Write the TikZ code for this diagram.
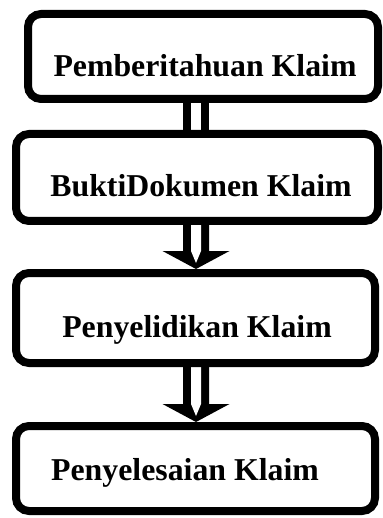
\documentclass[tikz,border=0pt]{standalone}
\usepackage{fontspec}
\setmainfont{Liberation Serif}
\usetikzlibrary{calc,backgrounds}
\begin{document}
\begin{tikzpicture}[x=1pt,y=-1pt,
  box/.style={draw=black, fill=white, line width=8pt, rounded corners=13pt, inner sep=0pt},
  lbl/.style={anchor=base, inner sep=0pt, font=\bfseries\fontsize{31.8}{38}\selectfont},
  blk/.style={fill=black},
  wht/.style={fill=white}]
\useasboundingbox (0,0) rectangle (382,518);
\coordinate (ax) at (196,0);
\node[box, minimum width=350pt, minimum height=85pt] (b1) at (203,56.5) {};
\node[box, minimum width=362pt, minimum height=87pt] (b2) at (197,177.5) {};
\node[box, minimum width=359pt, minimum height=90pt] (b3) at (195.5,318) {};
\node[box, minimum width=359pt, minimum height=85pt] (b4) at (195.5,468.5) {};
\node[lbl] (t1) at (205,77) {Pemberitahuan Klaim};
\node[lbl] (t2) at (201,197) {BuktiDokumen Klaim};
\node[lbl] (t3) at (197,337.7) {Penyelidikan Klaim};
\node[lbl] (t4) at (185,480) {Penyelesaian Klaim};
\begin{scope}[on background layer]
  % connector 1: double shaft
  \coordinate (s1) at (ax |- b1.south);
  \coordinate (e1) at (ax |- b2.north);
  \fill[blk] ($(s1)+(-13,0)$) rectangle ($(e1)+(13,0)$);
  \fill[wht] ($(s1)+(-5,0)$) rectangle ($(e1)+(5,0)$);
  % connectors 2 and 3: double block arrows
  \foreach \a/\b in {b2/b3, b3/b4} {
    \coordinate (s) at (ax |- \a.south);
    \coordinate (e) at (ax |- \b.north);
    \fill[blk] ($(s)+(-13,0)$) -- ($(e)+(-13,-18)$) -- ($(e)+(-33.5,-18)$) -- (e)
       -- ($(e)+(33.5,-18)$) -- ($(e)+(13,-18)$) -- ($(s)+(13,0)$) -- cycle;
    \fill[wht] ($(s)+(-5,0)$) -- ($(e)+(-5,-18)$) -- ($(e)+(0,-6)$)
       -- ($(e)+(5,-18)$) -- ($(s)+(5,0)$) -- cycle;
  }
\end{scope}
\end{tikzpicture}
\end{document}
